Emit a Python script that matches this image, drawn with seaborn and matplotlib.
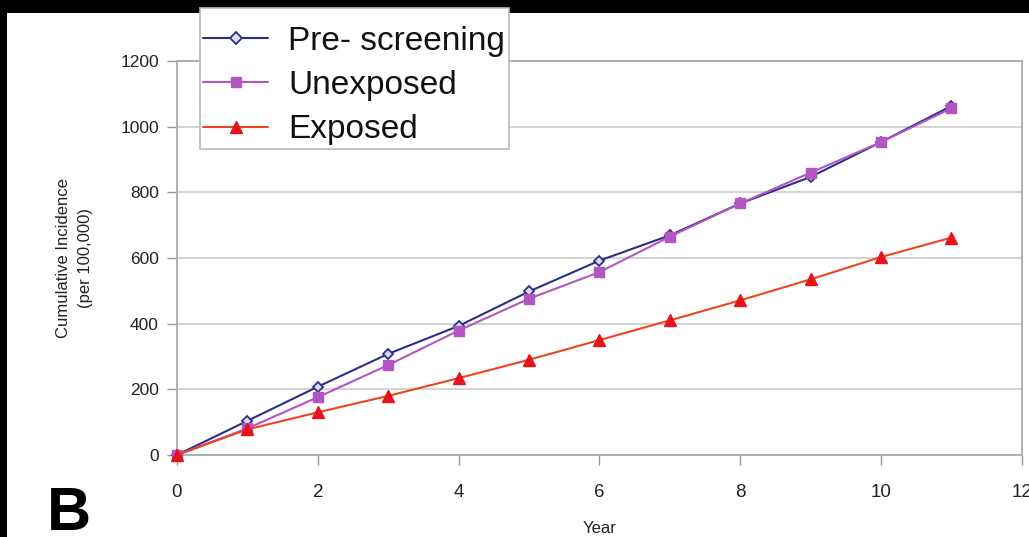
import matplotlib
matplotlib.use("Agg")
import matplotlib.pyplot as plt
from matplotlib.patches import Rectangle
import seaborn as sns
import pandas as pd

years = list(range(0, 12))
pre_screening = [0, 104, 208, 308, 393, 498, 592, 669, 766, 847, 953, 1063]
unexposed = [0, 81, 176, 274, 379, 476, 557, 665, 766, 860, 953, 1056]
exposed = [0, 78, 130, 180, 234, 290, 350, 410, 471, 535, 603, 662]
series_names = ["Pre- screening", "Unexposed", "Exposed"]
x_ticks = [0, 2, 4, 6, 8, 10, 12]
y_ticks = [0, 200, 400, 600, 800, 1000, 1200]

sns.set_theme(style="white")
plt.rcParams['font.family'] = ['Liberation Sans', 'DejaVu Sans']

fig = plt.figure(figsize=(10.29, 5.37), dpi=100)
ax = fig.add_axes([0.172, 0.1527, 0.993 - 0.172, 0.8864 - 0.1527])

# black border bands of the scanned figure
fig.patches.append(Rectangle((0, 1 - 13 / 537), 1, 13 / 537, transform=fig.transFigure,
                             facecolor='black', edgecolor='none', zorder=-1))
fig.patches.append(Rectangle((0, 0), 7 / 1029, 1, transform=fig.transFigure,
                             facecolor='black', edgecolor='none', zorder=-1))

df = pd.DataFrame({"Year": years, series_names[0]: pre_screening,
                   series_names[1]: unexposed, series_names[2]: exposed})

styles = {
    series_names[0]: dict(color='#2b2f86', marker='D', markersize=5.5, mfc='#dcdcf0', mec='#2b2f86', mew=1.3),
    series_names[1]: dict(color='#b455c4', marker='s', markersize=7, mfc='#b455c4', mec='#b455c4', mew=1),
    series_names[2]: dict(color='#ee4422', marker='^', markersize=8, mfc='#e3141c', mec='#e3141c', mew=1),
}
for name in series_names:
    st = styles[name]
    sns.lineplot(data=df, x="Year", y=name, ax=ax, color=st['color'], linewidth=1.5,
                 marker=st['marker'], markersize=st['markersize'],
                 markerfacecolor=st['mfc'], markeredgecolor=st['mec'],
                 markeredgewidth=st['mew'], label=name, zorder=3, clip_on=False)

ax.set_xlim(0, 12)
ax.set_ylim(0, 1200)
ax.set_xticks(x_ticks)
ax.set_yticks(y_ticks)
ax.set_xticklabels([str(t) for t in x_ticks], fontsize=13.5)
ax.set_yticklabels([str(t) for t in y_ticks], fontsize=12.5)
ax.tick_params(axis='both', direction='out', length=7, width=1, color='#999999',
               bottom=True, left=True, labelcolor='#222222')
ax.tick_params(axis='x', pad=14)
ax.tick_params(axis='y', pad=6)
ax.grid(axis='y', color='#cccccc', linewidth=1.2)
ax.set_axisbelow(True)
for sp in ax.spines.values():
    sp.set_color('#aaaaaa')
    sp.set_linewidth(1.3)
    sp.set_visible(True)

ax.set_xlabel("Year", fontsize=12, labelpad=14, color='#222222')
ax.set_ylabel("Cumulative Incidence\n(per 100,000)", fontsize=12, labelpad=20,
              color='#222222', linespacing=1.55)

leg = ax.legend(loc='upper left', bbox_to_anchor=(200 / 1029, 1 - 8 / 537),
                bbox_transform=fig.transFigure, borderaxespad=0, frameon=True,
                fancybox=False, edgecolor='#bbbbbb', facecolor='white', framealpha=1,
                fontsize=24, handlelength=1.95, handletextpad=0.6, labelspacing=0.4,
                borderpad=0.1, markerscale=1.1, title=" ", title_fontsize=1)
leg.get_frame().set_linewidth(1.2)
for t in leg.get_texts():
    t.set_color('#111111')

fig.text(47 / 1029, 1 - 530 / 537, "B", fontsize=44, fontweight='bold',
         ha='left', va='baseline', color='black')

fig.savefig("out.png", dpi=100, facecolor='white')
